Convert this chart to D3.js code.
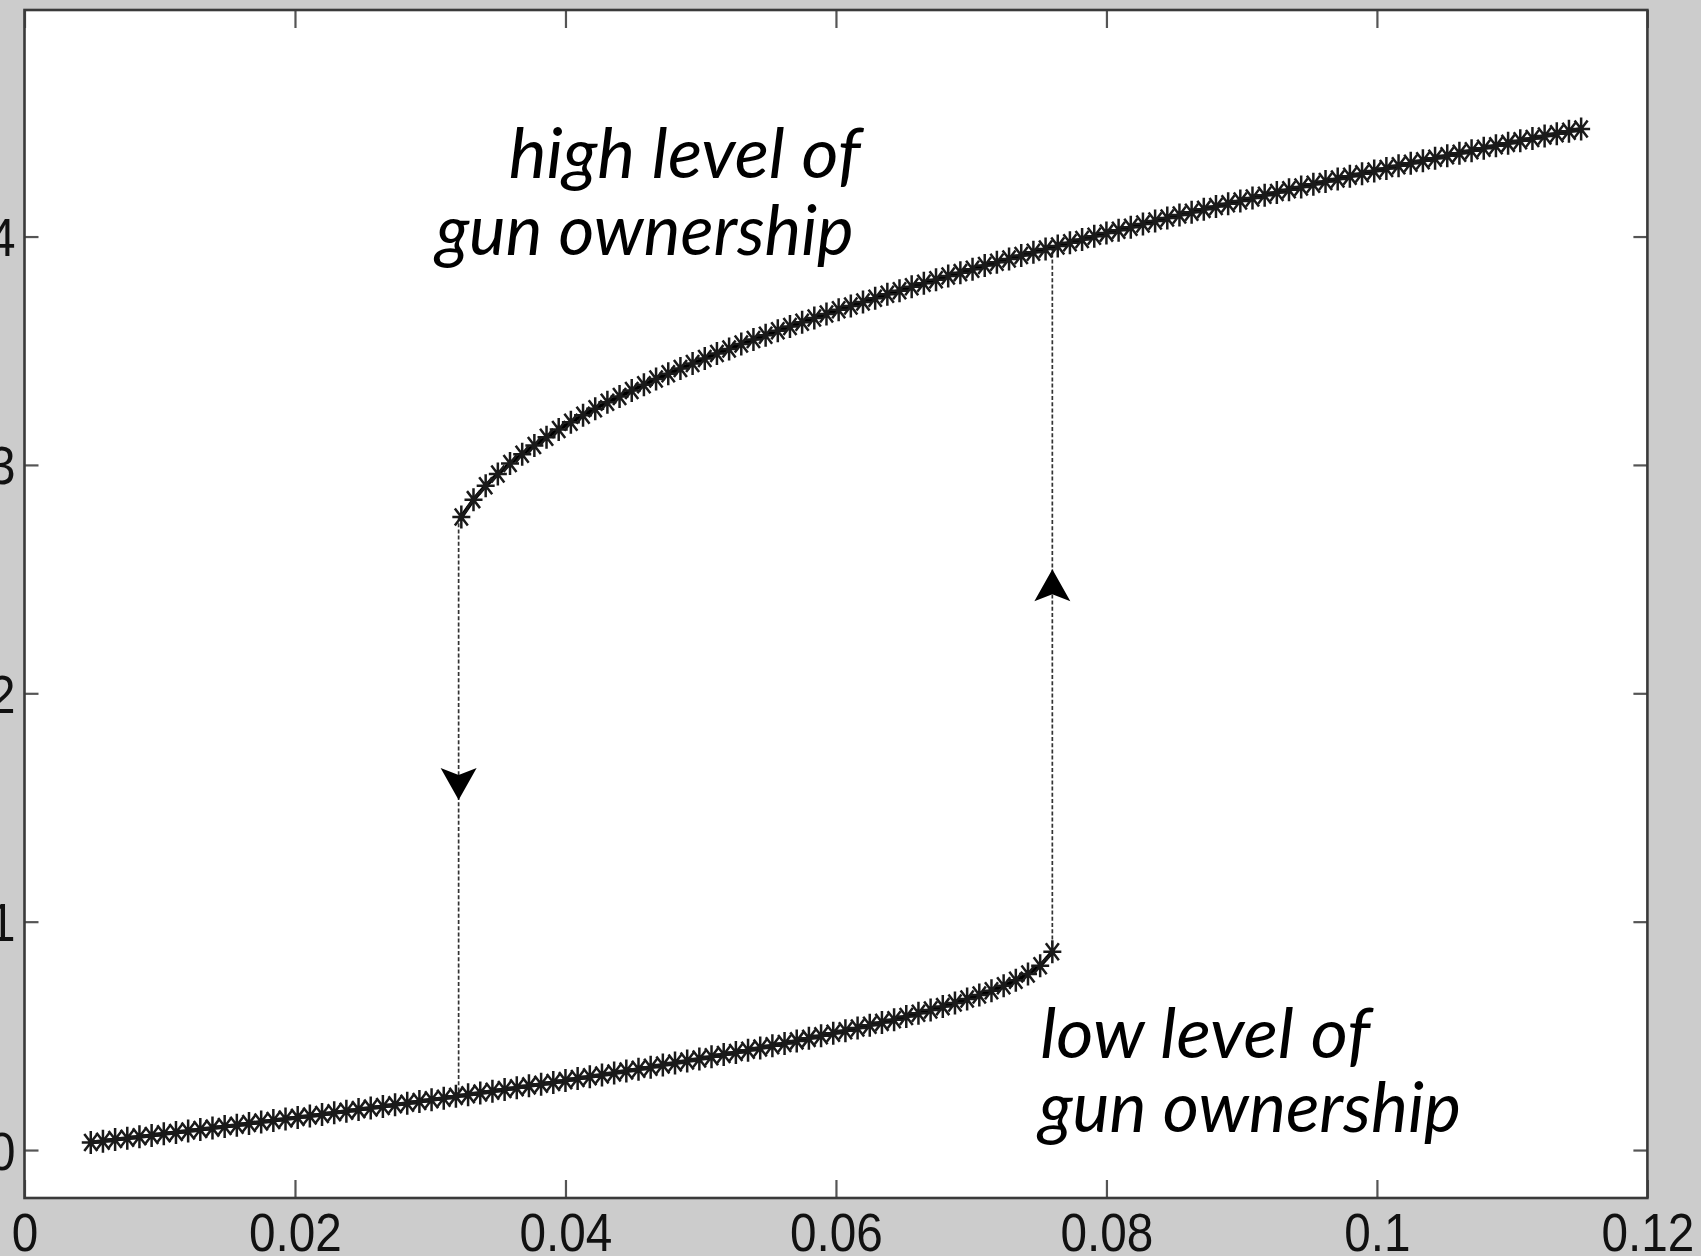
<!DOCTYPE html>
<html><head><meta charset="utf-8">
<script src="https://cdn.jsdelivr.net/npm/d3@7"></script>
<style>html,body{margin:0;padding:0;background:#cccccc;overflow:hidden}</style>
</head><body>
<svg id="chart" width="1701" height="1256"></svg>
<script>
// ---------- data ----------
const xTicks = [0, 0.02, 0.04, 0.06, 0.08, 0.1, 0.12];
const xTickLabels = ["0", "0.02", "0.04", "0.06", "0.08", "0.1", "0.12"];
const yTicks = [0, 0.1, 0.2, 0.3, 0.4];
const yTickLabels = ["0", "0.1", "0.2", "0.3", "0.4"];

const xHigh = [0.0323,0.0332,0.0341,0.0350,0.0359,0.0368,0.0377,0.0386,0.0395,0.0404,0.0413,0.0422,0.0431,0.0440,0.0449,0.0458,0.0467,0.0476,0.0485,0.0494,0.0503,0.0512,0.0521,0.0530,0.0539,0.0548,0.0557,0.0566,0.0575,0.0584,0.0593,0.0602,0.0611,0.0620,0.0629,0.0638,0.0647,0.0656,0.0665,0.0674,0.0683,0.0692,0.0701,0.0710,0.0719,0.0728,0.0737,0.0746,0.0755,0.0764,0.0773,0.0782,0.0791,0.0800,0.0809,0.0818,0.0827,0.0836,0.0845,0.0854,0.0863,0.0872,0.0881,0.0890,0.0899,0.0908,0.0917,0.0926,0.0935,0.0944,0.0953,0.0962,0.0971,0.0980,0.0989,0.0998,0.1007,0.1016,0.1025,0.1034,0.1043,0.1052,0.1061,0.1070,0.1079,0.1088,0.1097,0.1106,0.1115,0.1124,0.1133,0.1142,0.1151];
const yHigh = [0.2772,0.2848,0.2909,0.2960,0.3006,0.3047,0.3085,0.3121,0.3155,0.3187,0.3217,0.3246,0.3274,0.3300,0.3326,0.3351,0.3376,0.3399,0.3422,0.3444,0.3466,0.3488,0.3508,0.3529,0.3549,0.3568,0.3588,0.3606,0.3625,0.3643,0.3661,0.3679,0.3696,0.3713,0.3730,0.3747,0.3763,0.3780,0.3796,0.3811,0.3827,0.3842,0.3857,0.3873,0.3887,0.3902,0.3917,0.3931,0.3945,0.3959,0.3973,0.3987,0.4001,0.4015,0.4028,0.4041,0.4055,0.4068,0.4081,0.4094,0.4106,0.4119,0.4132,0.4144,0.4156,0.4169,0.4181,0.4193,0.4205,0.4217,0.4229,0.4241,0.4252,0.4264,0.4275,0.4287,0.4298,0.4310,0.4321,0.4332,0.4343,0.4354,0.4365,0.4376,0.4387,0.4398,0.4408,0.4419,0.4429,0.4440,0.4450,0.4461,0.4471];

const xLow = [0.0049,0.0058,0.0067,0.0076,0.0085,0.0094,0.0103,0.0112,0.0121,0.0130,0.0139,0.0148,0.0157,0.0166,0.0175,0.0184,0.0193,0.0202,0.0211,0.0220,0.0229,0.0238,0.0247,0.0256,0.0265,0.0274,0.0283,0.0292,0.0301,0.0310,0.0319,0.0328,0.0337,0.0346,0.0355,0.0364,0.0373,0.0382,0.0391,0.0400,0.0409,0.0418,0.0427,0.0436,0.0445,0.0454,0.0463,0.0472,0.0481,0.0490,0.0499,0.0508,0.0517,0.0526,0.0535,0.0544,0.0553,0.0562,0.0571,0.0580,0.0589,0.0598,0.0607,0.0616,0.0625,0.0634,0.0643,0.0652,0.0661,0.0670,0.0679,0.0688,0.0697,0.0706,0.0715,0.0724,0.0733,0.0742,0.0751,0.0760];
const yLow = [0.0033,0.0039,0.0046,0.0052,0.0058,0.0064,0.0071,0.0077,0.0083,0.0090,0.0096,0.0103,0.0109,0.0116,0.0123,0.0129,0.0136,0.0143,0.0149,0.0156,0.0163,0.0170,0.0177,0.0184,0.0191,0.0198,0.0205,0.0213,0.0220,0.0227,0.0235,0.0242,0.0250,0.0257,0.0265,0.0273,0.0281,0.0288,0.0296,0.0304,0.0313,0.0321,0.0329,0.0337,0.0346,0.0354,0.0363,0.0372,0.0381,0.0390,0.0399,0.0408,0.0418,0.0427,0.0437,0.0447,0.0457,0.0467,0.0478,0.0489,0.0500,0.0511,0.0522,0.0534,0.0546,0.0559,0.0571,0.0585,0.0599,0.0613,0.0628,0.0644,0.0661,0.0679,0.0698,0.0719,0.0743,0.0771,0.0807,0.0868];

// jumps between branches (dashed lines) and arrow tips
const jumpX = [0.0321, 0.0760];
const jumpFrom = [0.2772, 0.0868];
const jumpTo = [0.0235, 0.3953];
const arrowTipY = [0.1533, 0.2543];
const arrowDir = ["down", "up"];

const labelLines = [
  {text: "high level of", x: 0.0358, y: 0.4255, width: 352},
  {text: "gun ownership", x: 0.0304, y: 0.3918, width: 418},
  {text: "low level of",  x: 0.0751, y: 0.0402, width: 330},
  {text: "gun ownership", x: 0.0750, y: 0.0078, width: 422}
];

// ---------- layout ----------
const svg = d3.select("#chart");
const x = d3.scaleLinear().domain([0, 0.12]).range([24.5, 1647.4]);
const y = d3.scaleLinear().domain([-0.021, 0.4992]).range([1198, 10]);

svg.append("rect").attr("width", 1701).attr("height", 1256).attr("fill", "#cccccc");
svg.append("rect")
  .attr("x", x(0)).attr("y", y(0.4992))
  .attr("width", x(0.12) - x(0)).attr("height", y(-0.021) - y(0.4992))
  .attr("fill", "#ffffff");

const fontNum = "'Liberation Sans', Arial, sans-serif";
const sx = 0.9;

// axes
const gB = svg.append("g").attr("transform", `translate(0,${y(-0.021)})`)
  .call(d3.axisBottom(x).tickValues(xTicks).tickSize(-18).tickPadding(0).tickFormat((d,i)=>xTickLabels[i]));
const gT = svg.append("g").attr("transform", `translate(0,${y(0.4992)})`)
  .call(d3.axisTop(x).tickValues(xTicks).tickSize(-18).tickFormat(""));
const gL = svg.append("g").attr("transform", `translate(${x(0)},0)`)
  .call(d3.axisLeft(y).tickValues(yTicks).tickSize(-14).tickPadding(0).tickFormat((d,i)=>yTickLabels[i]));
const gR = svg.append("g").attr("transform", `translate(${x(0.12)},0)`)
  .call(d3.axisRight(y).tickValues(yTicks).tickSize(-14).tickFormat(""));
[gB,gT,gL,gR].forEach(g=>{
  g.select(".domain").remove();
  g.selectAll(".tick line").attr("stroke", "#555").attr("stroke-width", 2.2);
});
gB.selectAll(".tick text")
  .attr("font-family", fontNum).attr("font-size", 53).attr("fill", "#111")
  .attr("y", 0).attr("dy", null)
  .attr("transform", `translate(0,53) scale(${sx},1)`);
gL.selectAll(".tick text")
  .attr("font-family", fontNum).attr("font-size", 54).attr("fill", "#111")
  .attr("x", 0).attr("dy", null).attr("text-anchor", "end")
  .attr("transform", `translate(-9,19) scale(${sx},1)`);

// branch lines
const line = d3.line().x(d=>x(d[0])).y(d=>y(d[1]));
const high = d3.zip(xHigh, yHigh);
const low = d3.zip(xLow, yLow);

// dashed jumps
svg.append("g").selectAll("line").data(jumpX).join("line")
  .attr("x1", d=>x(d)).attr("x2", d=>x(d))
  .attr("y1", (d,i)=>y(jumpFrom[i])).attr("y2", (d,i)=>y(jumpTo[i]))
  .attr("stroke", "#333").attr("stroke-width", 1.7).attr("stroke-dasharray", "4,2.2");

// arrows
svg.append("g").selectAll("path").data(jumpX).join("path")
  .attr("d", "M0,0 L18,32 L0,25 L-18,32 Z")
  .attr("fill", "#000")
  .attr("transform", (d,i)=>`translate(${x(d)},${y(arrowTipY[i])}) scale(1,${arrowDir[i]==="up"?1:-1})`);

[low, high].forEach(data=>{
  svg.append("path").datum(data).attr("d", line)
    .attr("fill", "none").attr("stroke", "#000").attr("stroke-width", 4);
});

const star = "M0,-11.5V11.5M-9,0H9M-6.5,-8.5L6.5,8.5M-6.5,8.5L6.5,-8.5";
[low, high].forEach(data=>{
  svg.append("g").selectAll("path").data(data).join("path")
    .attr("d", star)
    .attr("transform", d=>`translate(${x(d[0])},${y(d[1])})`)
    .attr("fill", "none").attr("stroke", "#1a1a1a").attr("stroke-width", 2.5);
});

// frame
svg.append("rect")
  .attr("x", x(0)).attr("y", y(0.4992))
  .attr("width", x(0.12) - x(0)).attr("height", y(-0.021) - y(0.4992))
  .attr("fill", "none").attr("stroke", "#3a3a3a").attr("stroke-width", 2.6);

// annotations
svg.append("g").selectAll("text").data(labelLines).join("text")
  .attr("x", d=>x(d.x)).attr("y", d=>y(d.y))
  .attr("font-family", "Lato, 'Open Sans', sans-serif")
  .attr("font-style", "italic").attr("font-size", 70).attr("fill", "#000")
  .attr("textLength", d=>d.width).attr("lengthAdjust", "spacingAndGlyphs")
  .text(d=>d.text);
</script>
</body></html>
